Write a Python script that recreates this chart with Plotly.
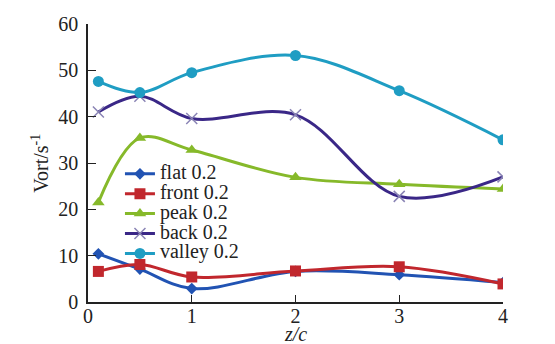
import plotly.graph_objects as go

x_vals = [0.1, 0.5, 1, 2, 3, 4]
flat = [10.4, 7.1, 2.9, 6.6, 5.9, 4.2]
front = [6.6, 8.1, 5.4, 6.7, 7.6, 3.9]
peak = [21.5, 35.4, 32.8, 26.9, 25.4, 24.4]
back = [41.0, 44.4, 39.6, 40.4, 22.8, 27.0]
valley = [47.6, 45.2, 49.5, 53.2, 45.6, 35.0]

names = ["flat 0.2", "front 0.2", "peak 0.2", "back 0.2", "valley 0.2"]
series = [flat, front, peak, back, valley]
colors = ["#2153b3", "#c1272d", "#86b92a", "#3a2787", "#1f9dc3"]
symbols = ["diamond", "square", "triangle-up", "x-thin", "circle"]
sizes = [9, 11, 11, 11, 11]

font = "'Liberation Serif', 'Times New Roman', serif"

fig = go.Figure()
for n, s, c, sym, sz in zip(names, series, colors, symbols, sizes):
    marker = dict(symbol=sym, size=sz, color=c)
    if sym == "x-thin":
        marker["line"] = dict(color="#8a84b5", width=1.5)
    fig.add_trace(go.Scatter(
        x=x_vals, y=s, name='<span style="font-size:20px">' + n + '</span>',
        mode="lines+markers",
        line=dict(color=c, width=3, shape="spline", smoothing=1.0),
        marker=marker,
    ))

fig.update_layout(
    width=547, height=336,
    margin=dict(l=80, r=52, t=16, b=42, autoexpand=False),
    paper_bgcolor="white", plot_bgcolor="white",
    font=dict(family=font, size=20, color="#222"),
    showlegend=True,
    legend=dict(x=0.077, y=0.515, xanchor="left", yanchor="top",
                bgcolor="rgba(0,0,0,0)", font=dict(size=13, family=font),
                tracegroupgap=0, itemwidth=30),
    xaxis=dict(range=[0, 4], tickvals=[0, 1, 2, 3, 4], ticks="inside", ticklen=7,
               tickcolor="#222", showline=True, linecolor="#222", linewidth=1.5,
               showgrid=False, zeroline=False, fixedrange=True, automargin=False,
               ticklabelstandoff=-5, tickfont=dict(family=font, size=20)),
    yaxis=dict(range=[0, 60], tickvals=[0, 10, 20, 30, 40, 50, 60], ticks="inside", ticklen=8,
               tickcolor="#222", showline=True, linecolor="#222", linewidth=1.5,
               showgrid=False, zeroline=False, fixedrange=True, automargin=False,
               ticklabelstandoff=4, tickfont=dict(family=font, size=20)),
    annotations=[
        dict(text="<i>z/c</i>", xref="paper", yref="paper", x=0.5, y=-0.116,
             xanchor="center", yanchor="middle", showarrow=False,
             font=dict(family=font, size=20, color="#222")),
        dict(text="Vort/s<sup>-1</sup>", xref="paper", yref="paper", x=-0.116, y=0.5,
             xanchor="center", yanchor="middle", showarrow=False, textangle=-90,
             font=dict(family=font, size=20, color="#222")),
    ],
)

fig.write_html("out.html")
